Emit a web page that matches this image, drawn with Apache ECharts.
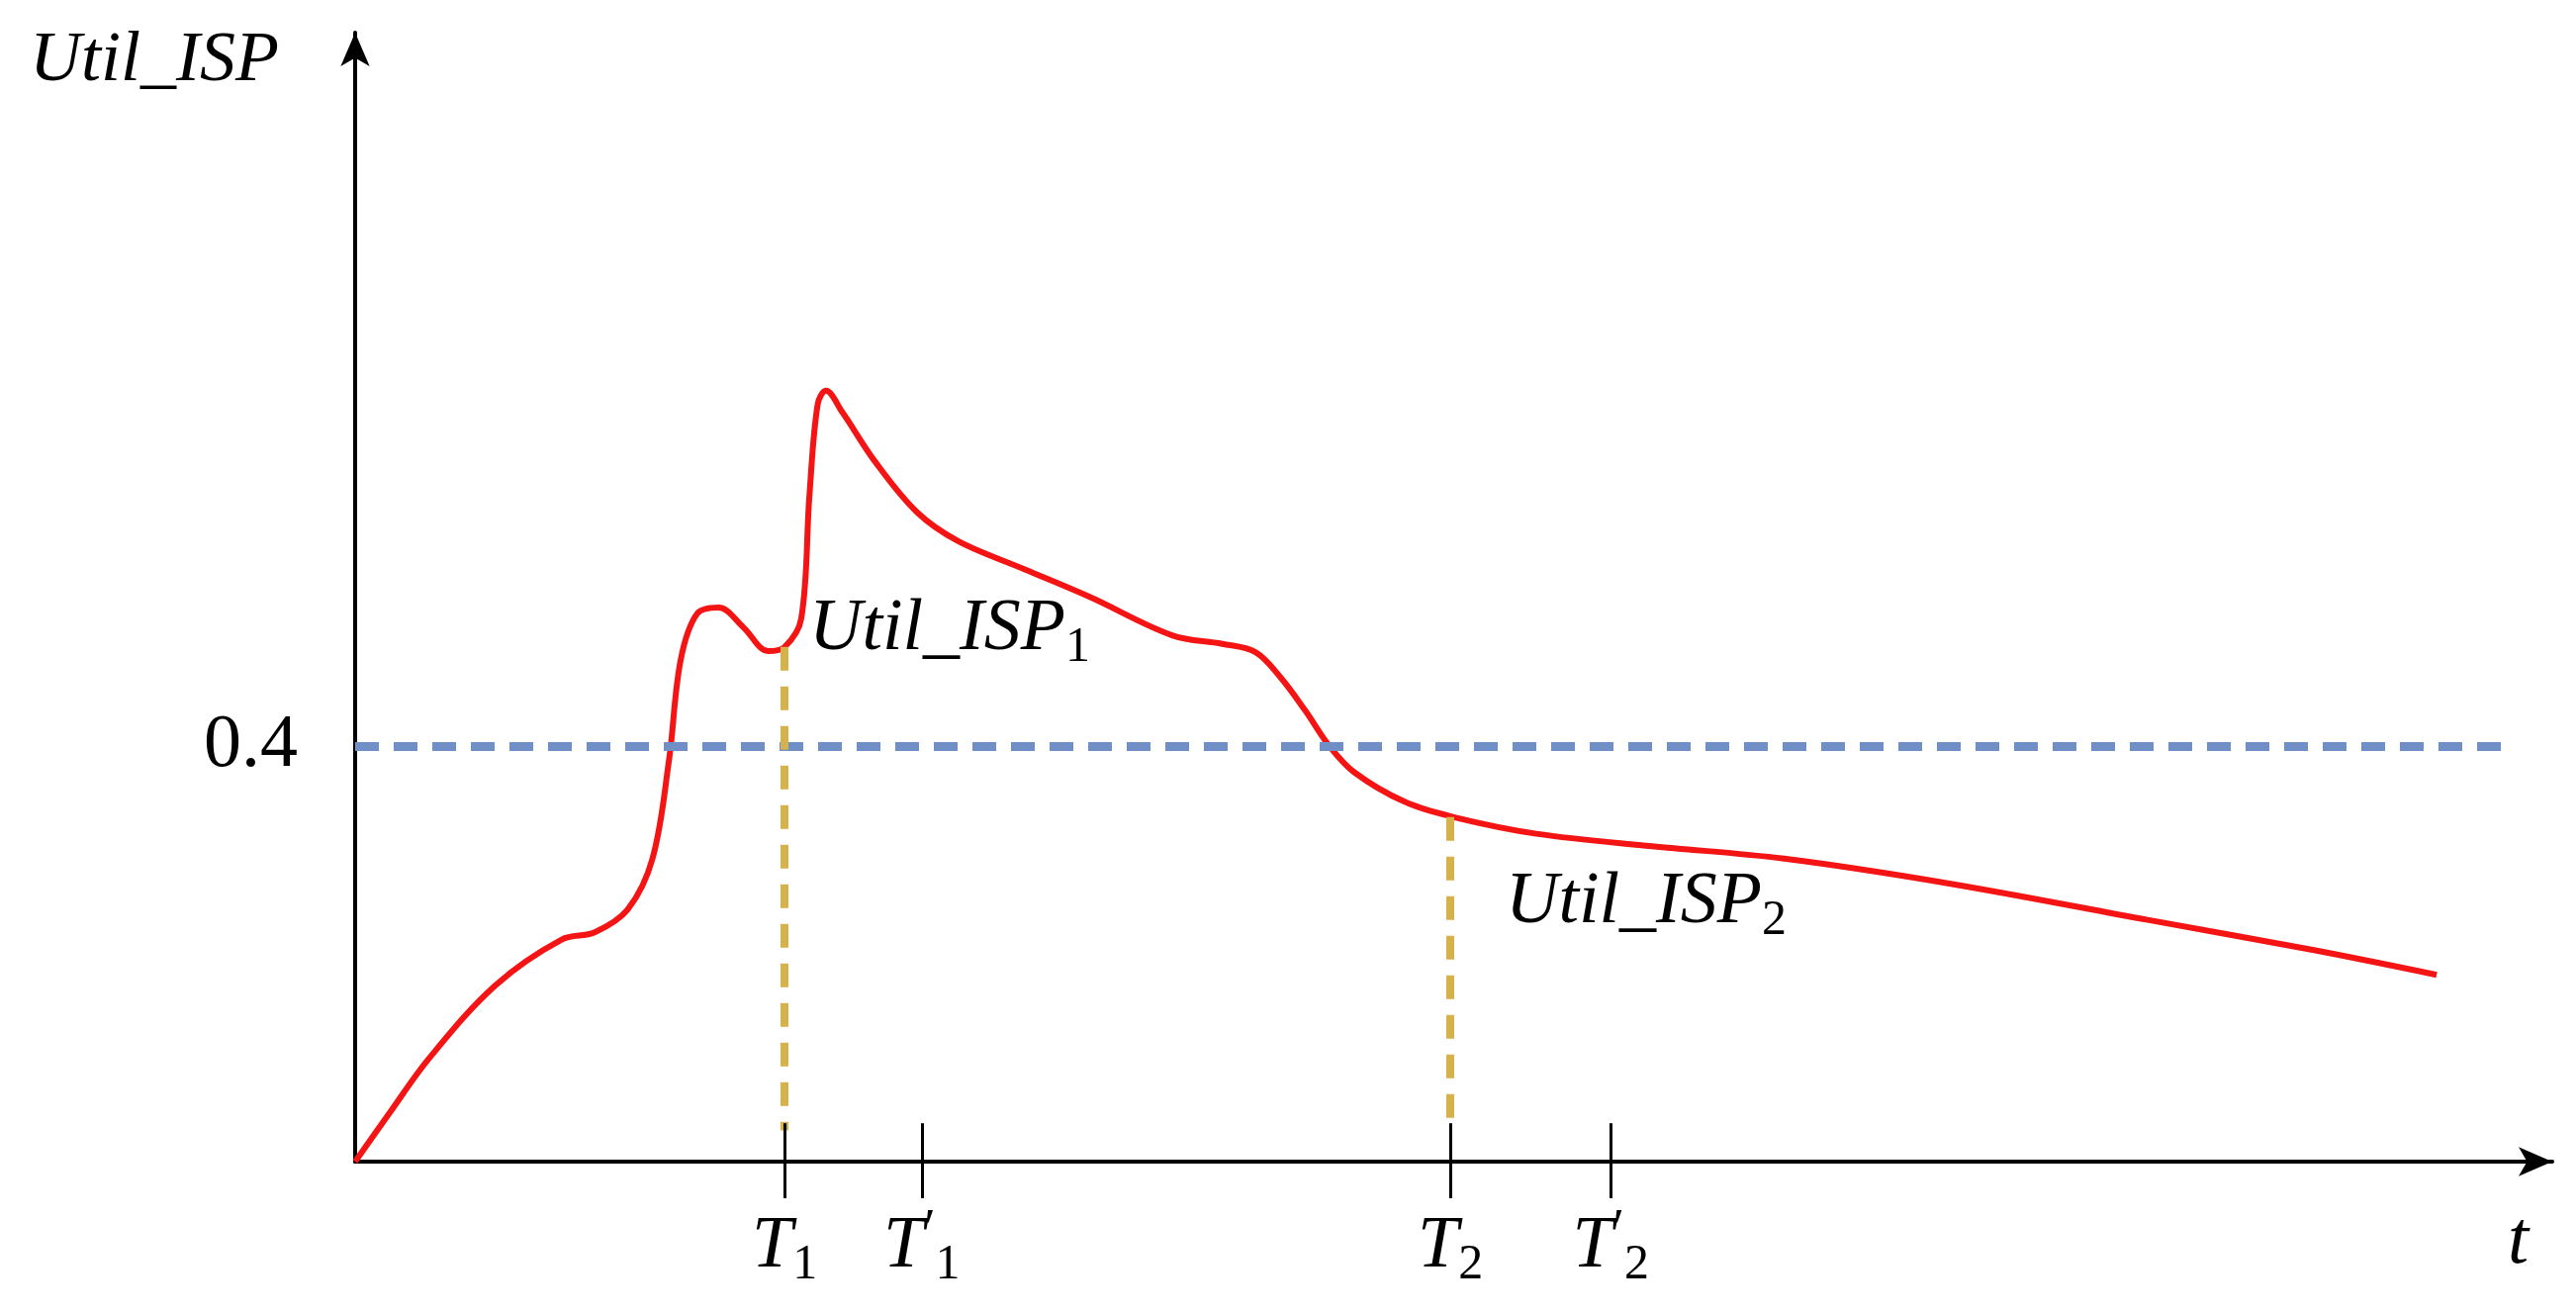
<!DOCTYPE html>
<html>
<head>
<meta charset="utf-8">
<script src="https://cdn.jsdelivr.net/npm/echarts@6/dist/echarts.min.js"></script>
<style>
  html, body { margin: 0; padding: 0; background: #fff; }
  #chart { width: 2604px; height: 1328px; }
</style>
</head>
<body>
<div id="chart"></div>
<script>
// courbe Util_ISP(t) (t en unités arbitraires)
const temps = [0, 2, 4.5, 8.5, 12.5, 14.5, 16.5, 18, 19, 19.7, 20.7, 22, 23.5, 25, 26, 27, 27.5, 28, 28.5, 29.5, 31.5,
  34, 36.5, 40.5, 44.5, 49.5, 52.5, 54.5, 56, 57.5, 59, 60.5, 63.5, 66.5, 71.5, 78.5, 86.5, 96.5, 108.5, 118.5, 126];
const utilIsp = [0, 0.045, 0.100, 0.170, 0.214, 0.221, 0.243, 0.292, 0.387, 0.483, 0.528, 0.534, 0.515, 0.492, 0.496, 0.523, 0.642,
  0.730, 0.743, 0.722, 0.674, 0.626, 0.598, 0.571, 0.544, 0.507, 0.499, 0.491, 0.467, 0.435, 0.400, 0.375, 0.347,
  0.332, 0.316, 0.304, 0.292, 0.268, 0.233, 0.204, 0.180];
const seuil = 0.4;
const finSeuil = 130;
const repT = [26, 34.3, 66.3, 76];
const etiquettesT = ["{i|T}{s|1}", "{i|T}{p|′}{s|1}", "{i|T}{s|2}", "{i|T}{p|′}{s|2}"];
const lecture = [[26, 0.496], [66.3, 0.332]]; // Util_ISP1, Util_ISP2 (pied des pointillés jaunes)

const serif = "'Liberation Serif', 'DejaVu Serif', serif";
const noir = "#000";
const richT = {
  i: { fontFamily: serif, fontStyle: "italic", fontSize: 74, color: noir },
  s: { fontFamily: serif, fontSize: 50, color: noir, verticalAlign: "bottom", padding: [36, 0, 0, 0] },
  p: { fontFamily: serif, fontSize: 52, color: noir, verticalAlign: "top", padding: [0, 0, 24, 0] },
};

const chart = echarts.init(document.getElementById("chart"));
chart.setOption({
  animation: false,
  grid: { left: 359, right: 24, top: 33, bottom: 154 },
  xAxis: {
    type: "value", min: 0, max: 133,
    splitLine: { show: false },
    axisLine: { lineStyle: { color: noir, width: 4 }, symbol: ["none", "arrow"], symbolSize: [22, 34] },
    axisTick: { show: true, customValues: repT, length: 37, lineStyle: { color: noir, width: 3 } },
    axisLabel: {
      customValues: repT, margin: 44, rich: richT,
      formatter: (v) => etiquettesT[repT.indexOf(v)] || "",
    },
  },
  yAxis: {
    type: "value", min: 0, max: 1.088,
    splitLine: { show: false },
    axisLine: { onZero: false, lineStyle: { color: noir, width: 4 }, symbol: ["none", "arrow"], symbolSize: [22, 34] },
    axisTick: { show: false },
    axisLabel: {
      customValues: [seuil], margin: 58, color: noir, fontFamily: serif, fontSize: 76,
      formatter: (v) => v.toFixed(1),
    },
  },
  series: [
    {
      type: "line", data: temps.map((t, k) => [t, utilIsp[k]]),
      smooth: 0.35, showSymbol: false, z: 3,
      lineStyle: { color: "#f41414", width: 6 },
    },
    {
      type: "line", data: [], silent: true,
      markLine: {
        symbol: "none", silent: true, label: { show: false },
        data: [
          [{ coord: [0, seuil], lineStyle: { color: "#6f8fc6", width: 9, type: [24, 15] } }, { coord: [finSeuil, seuil] }],
          ...lecture.map(([t, u]) => [
            { coord: [t, u], lineStyle: { color: "#d6b24c", width: 8, type: [24, 16] } }, { coord: [t, 0.03] }]),
          ...repT.map((t) => [{ coord: [t, 0], lineStyle: { color: noir, width: 3, type: "solid" } }, { coord: [t, 0.037] }]),
        ],
      },
    },
  ],
  graphic: [
    { type: "text", left: 30, top: 26, style: { text: "Util_ISP", font: `italic 72px ${serif}`, fill: noir } },
    { type: "text", left: 818, top: 600, style: { text: "{i|Util_ISP}{s|1}", rich: { i: richT.i, s: richT.s }, fill: noir } },
    { type: "text", left: 1522, top: 876, style: { text: "{i|Util_ISP}{s|2}", rich: { i: richT.i, s: richT.s }, fill: noir } },
    { type: "text", left: 2535, top: 1218, style: { text: "t", font: `italic 76px ${serif}`, fill: noir } },
  ],
});
</script>
</body>
</html>
